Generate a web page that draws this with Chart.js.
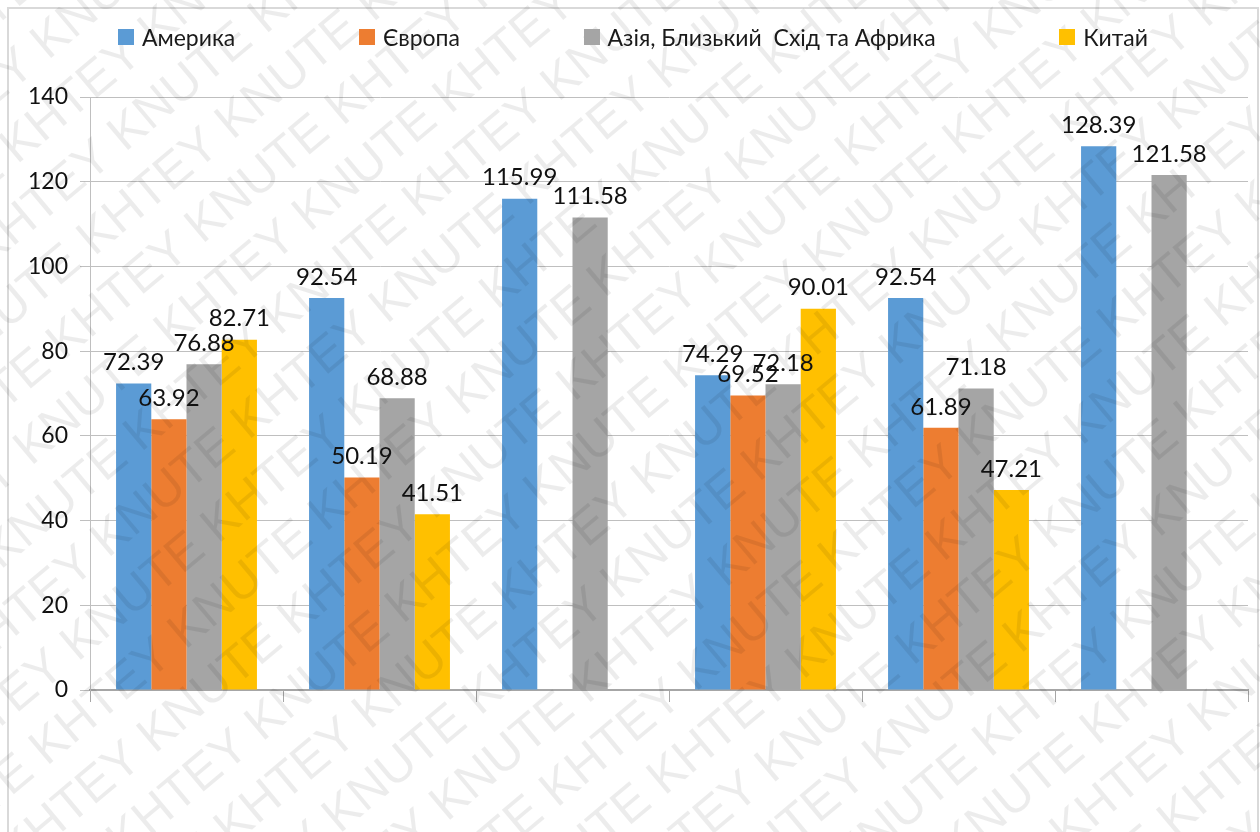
<!DOCTYPE html>
<html>
<head>
<meta charset="utf-8">
<script src="https://cdn.jsdelivr.net/npm/chart.js@4.4.0/dist/chart.umd.min.js"></script>
<style>
  body { margin: 0; background: #fff; }
  #wrap { position: relative; width: 1260px; height: 832px; }
  #legend { position: absolute; left: 118px; top: 23px; width: 1030px; display: flex; justify-content: space-between;
            font-family: Lato, sans-serif; font-size: 23px; color: #1a1a1a; z-index: 1; white-space: pre; }
  #legend span.item { display: flex; align-items: center; }
  #legend i { display: inline-block; width: 16px; height: 16px; margin-right: 8px; }
  canvas { position: absolute; left: 0; top: 0; }
</style>
</head>
<body>
<div id="wrap">
  <div id="legend"></div>
  <canvas id="barChart"></canvas>
</div>
<script>
// six groups, no names shown on the axis in the original
var categories = ["1", "2", "3", "4", "5", "6"];
var seriesNames = ["Америка", "Європа", "Азія, Близький  Схід та Африка", "Китай"];
var colors = ["#5B9BD5", "#ED7D31", "#A5A5A5", "#FFC000"];

var america = [72.39, 92.54, 115.99, 74.29, 92.54, 128.39];
var europe = [63.92, 50.19, null, 69.52, 61.89, null];
var asia = [76.88, 68.88, 111.58, 72.18, 71.18, 121.58];
var china = [82.71, 41.51, null, 90.01, 47.21, null];

var yTicks = [0, 20, 40, 60, 80, 100, 120, 140];

var seriesValues = [america, europe, asia, china];

// html legend, spaced out like the original
var legendEl = document.getElementById("legend");
seriesNames.forEach(function (name, i) {
  var item = document.createElement("span");
  item.className = "item";
  item.innerHTML = '<i style="background:' + colors[i] + '"></i>' + name;
  legendEl.appendChild(item);
});

// value labels above each bar
var barLabels = {
  id: "barLabels",
  afterDatasetsDraw: function (chart) {
    var ctx = chart.ctx;
    ctx.save();
    ctx.font = "24px Lato";
    ctx.fillStyle = "#111";
    ctx.textAlign = "center";
    ctx.textBaseline = "middle";
    chart.data.datasets.forEach(function (ds, i) {
      chart.getDatasetMeta(i).data.forEach(function (bar, j) {
        if (ds.data[j] == null) return;
        ctx.fillText(ds.data[j].toFixed(2), bar.x, bar.y - 21);
      });
    });
    ctx.restore();
  }
};

// frame + watermark
var frame = {
  id: "frame",
  beforeDraw: function (chart) {
    var ctx = chart.ctx;
    ctx.save();
    ctx.strokeStyle = "#d9d9d9";
    ctx.lineWidth = 2;
    ctx.strokeRect(8, 8, 1250, 840);
    ctx.restore();
  },
  afterDraw: function (chart) {
    var ctx = chart.ctx;
    ctx.save();
    ctx.fillStyle = "rgba(0,0,0,0.075)";
    ctx.font = "50px 'Liberation Sans'";
    ctx.textBaseline = "middle";
    ctx.translate(630, 416);
    ctx.rotate(-40 * Math.PI / 180);
    var line = "";
    for (var k = 0; k < 10; k++) line += "KHTEY KNUTE ";
    for (var r = -16; r <= 16; r++) {
      ctx.fillText(line, -1400 + (r % 2) * 90, r * 60);
    }
    ctx.restore();
  }
};

var ctx = document.getElementById("barChart").getContext("2d");
var chart = new Chart(ctx, {
  type: "bar",
  data: {
    labels: categories,
    datasets: seriesNames.map(function (name, i) {
      return { label: name, data: seriesValues[i], backgroundColor: colors[i] };
    })
  },
  options: {
    responsive: true,
    maintainAspectRatio: false,
    animation: false,
    layout: { padding: { top: 97, right: 12, left: 0, bottom: 0 } },
    datasets: { bar: { categoryPercentage: 0.73, barPercentage: 1 } },
    plugins: {
      legend: { display: false },
      tooltip: { enabled: false }
    },
    scales: {
      x: {
        grid: { offset: true, drawOnChartArea: false, color: "#a6a6a6", tickLength: 12 },
        border: { color: "#a6a6a6", width: 2 },
        ticks: { callback: function () { return ""; } },
        afterFit: function (s) { s.height = 832 - 690; }
      },
      y: {
        min: 0,
        max: 140,
        afterBuildTicks: function (s) { s.ticks = yTicks.map(function (v) { return { value: v }; }); },
        grid: { color: "#bfbfbf", tickLength: 10 },
        border: { color: "#bfbfbf" },
        ticks: { font: { family: "Lato", size: 23 }, color: "#111", padding: 12 },
        afterFit: function (s) { s.width = 90; }
      }
    }
  },
  plugins: [frame, barLabels]
});
</script>
</body>
</html>
